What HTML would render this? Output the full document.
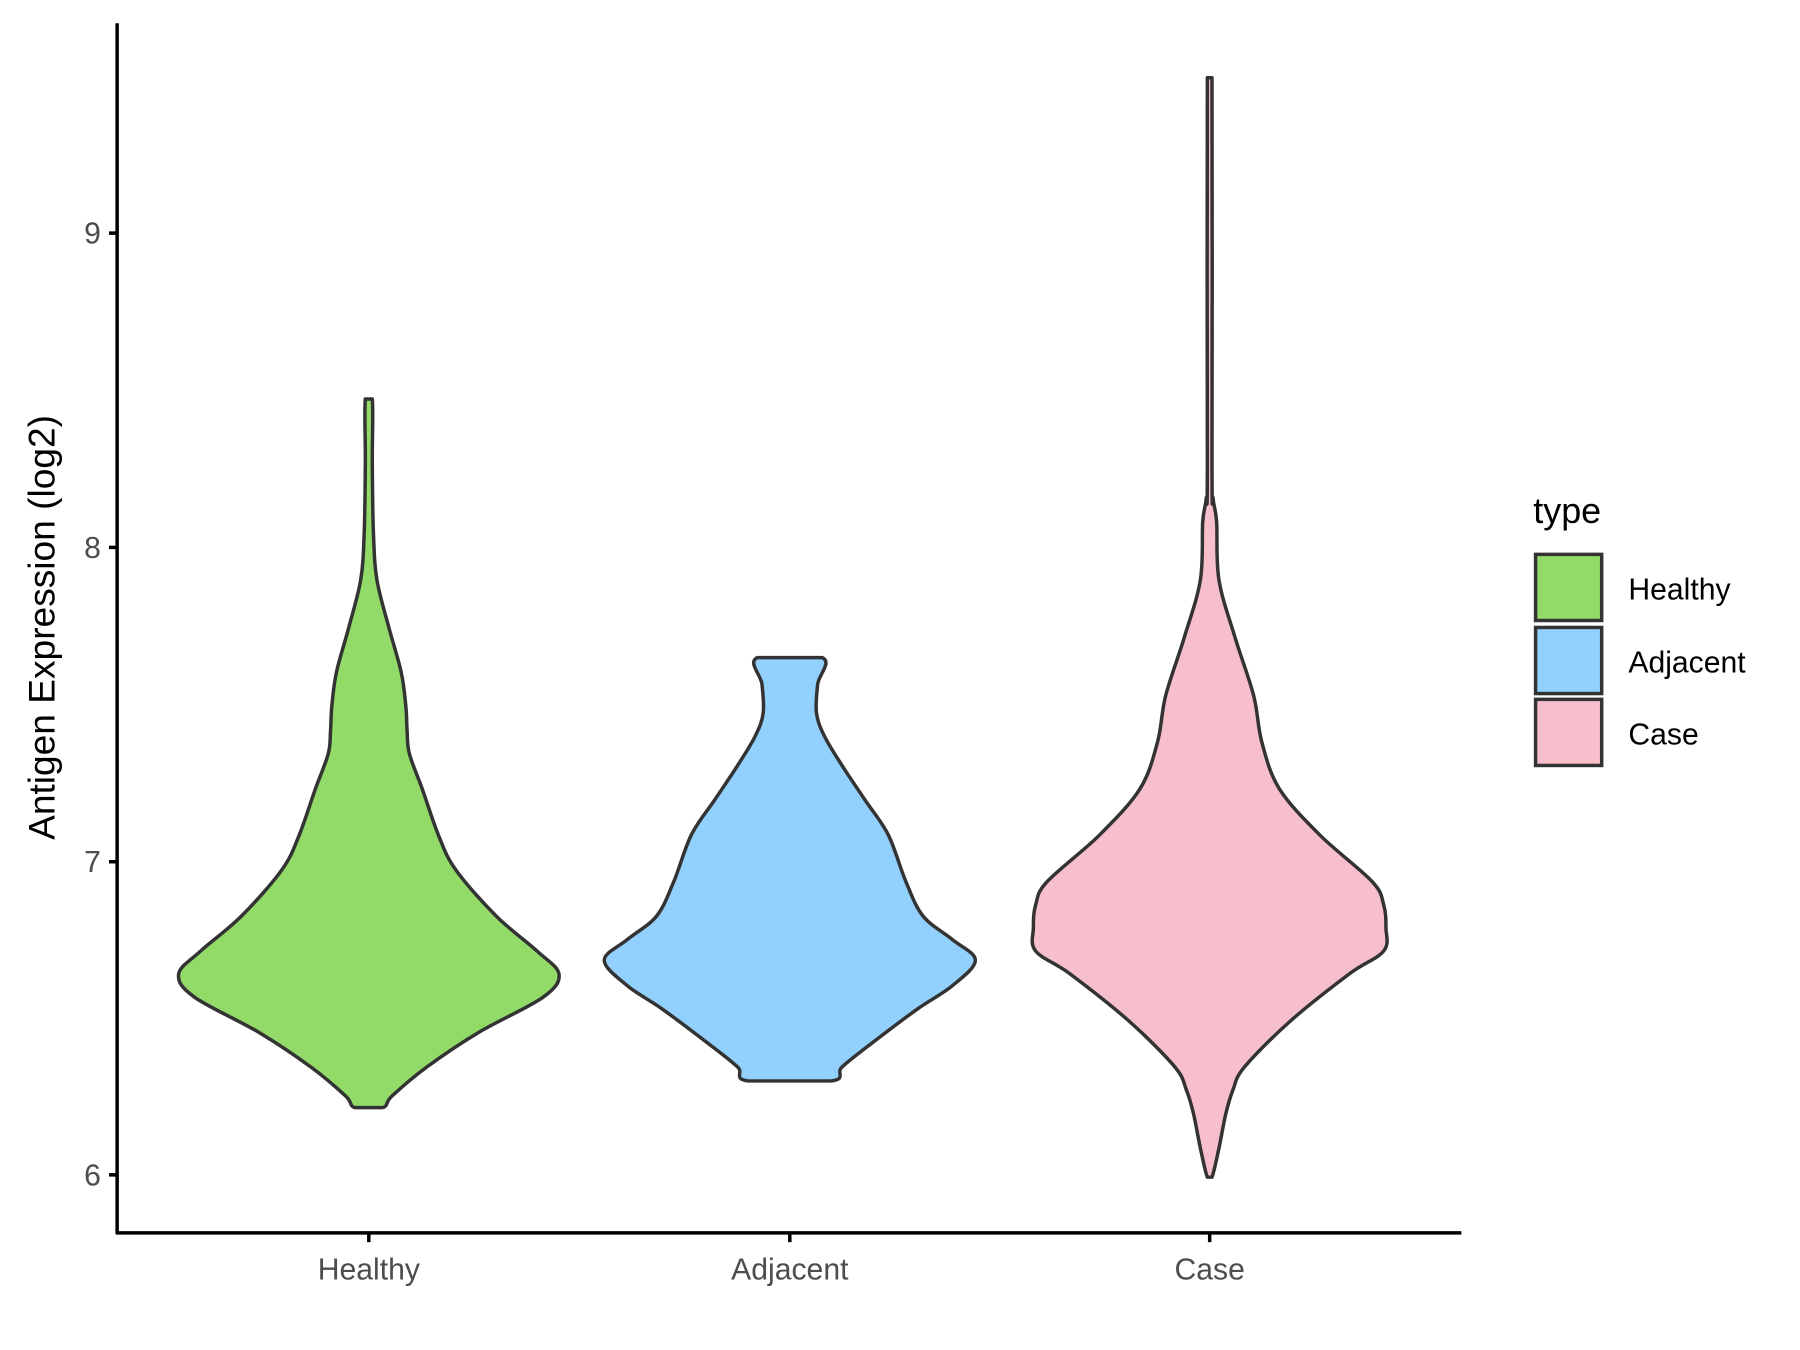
<!DOCTYPE html>
<html><head><meta charset="utf-8"><style>html,body{margin:0;padding:0;background:#fff}svg{display:block}</style></head>
<body>
<svg width="1800" height="1350" viewBox="0 0 1552 1164" preserveAspectRatio="none" xmlns="http://www.w3.org/2000/svg" font-family="Liberation Sans, Arial, sans-serif">
<rect width="1552" height="1164" fill="#fff"/>
<g stroke="#333" stroke-width="3" stroke-linejoin="round">
<path class="v" fill="#93DB69" d="M315,344 L321,344 L321,400 L322,460 L325,500 L335,540 L346,580 L350,610 L351,630 L353,650 L364,680 L378,720 L393,750 L428,790 L463,820 L482,840 L468,860 L413,890 L368,920 L338,945 L330,955 L306,955 L298,945 L268,920 L223,890 L168,860 L154,840 L173,820 L208,790 L243,750 L258,720 L272,680 L283,650 L285,630 L286,610 L290,580 L301,540 L311,500 L314,460 L315,400 Z"/>
<path class="v" fill="#92D1FE" d="M653,567 L709,567 L705,590 L704,615 L711,635 L726,660 L746,690 L766,720 L781,760 L796,790 L821,810 L841,828 L821,850 L791,870 L751,900 L726,920 L717,932 L645,932 L636,920 L611,900 L571,870 L541,850 L521,828 L541,810 L566,790 L581,760 L596,720 L616,690 L636,660 L651,635 L658,615 L657,590 Z"/>
<path class="v" fill="#F7BFCB" d="M1041,67 L1045,67 L1045,400 L1046,430 L1049,450 L1051,500 L1065,550 L1081,600 L1088,640 L1103,680 L1138,720 L1183,760 L1193,780 L1195,800 L1193,820 L1163,840 L1113,880 L1073,920 L1063,940 L1057,960 L1051,990 L1045,1015 L1041,1015 L1035,990 L1029,960 L1023,940 L1013,920 L973,880 L923,840 L893,820 L891,800 L893,780 L903,760 L948,720 L983,680 L998,640 L1005,600 L1021,550 L1035,500 L1037,450 L1040,430 L1041,400 Z"/>
</g>
<g stroke="#000" stroke-width="3" fill="none">
<line x1="101" y1="20" x2="101" y2="1064"/>
<line x1="100" y1="1063" x2="1260" y2="1063"/>
<line x1="94" y1="1013" x2="101" y2="1013"/><line x1="94" y1="743" x2="101" y2="743"/><line x1="94" y1="472" x2="101" y2="472"/><line x1="94" y1="201" x2="101" y2="201"/>
<line x1="318" y1="1063" x2="318" y2="1071"/><line x1="681" y1="1063" x2="681" y2="1071"/><line x1="1043" y1="1063" x2="1043" y2="1071"/>
</g>
<g fill="#4d4d4d" font-size="26" text-anchor="end">
<text x="87" y="1022">6</text><text x="87" y="752">7</text><text x="87" y="481">8</text><text x="87" y="210">9</text>
</g>
<g fill="#4d4d4d" font-size="26" text-anchor="middle">
<text x="318" y="1103">Healthy</text><text x="681" y="1103">Adjacent</text><text x="1043" y="1103">Case</text>
</g>
<text transform="translate(47,541) rotate(-90)" font-size="32" text-anchor="middle" fill="#000">Antigen Expression (log2)</text>
<text x="1322" y="451" font-size="31" fill="#000">type</text>
<g stroke="#333" stroke-width="3">
<rect x="1324" y="478" width="57" height="57" fill="#93DB69"/>
<rect x="1324" y="541" width="57" height="57" fill="#92D1FE"/>
<rect x="1324" y="603" width="57" height="57" fill="#F7BFCB"/>
</g>
<g font-size="26" fill="#000">
<text x="1404" y="517">Healthy</text><text x="1404" y="580">Adjacent</text><text x="1404" y="642">Case</text>
</g>
</svg>
<script>
document.querySelectorAll('path.v').forEach(function(p){
  var nums=p.getAttribute('d').match(/-?\d+(\.\d+)?/g).map(Number);
  var pts=[];for(var i=0;i<nums.length;i+=2)pts.push([nums[i],nums[i+1]]);
  var n=pts.length,t=0.5/3,d='M'+pts[0][0]+','+pts[0][1];
  for(var i=0;i<n;i++){
    var p0=pts[(i-1+n)%n],p1=pts[i],p2=pts[(i+1)%n],p3=pts[(i+2)%n];
    var c1=[p1[0]+(p2[0]-p0[0])*t,p1[1]+(p2[1]-p0[1])*t];
    var c2=[p2[0]-(p3[0]-p1[0])*t,p2[1]-(p3[1]-p1[1])*t];
    if(p1[1]===p2[1]){c1[1]=p1[1];c2[1]=p2[1];}
    d+=' C'+c1[0].toFixed(1)+','+c1[1].toFixed(1)+' '+c2[0].toFixed(1)+','+c2[1].toFixed(1)+' '+p2[0]+','+p2[1];
  }
  p.setAttribute('d',d+' Z');
});
</script>
</body></html>
